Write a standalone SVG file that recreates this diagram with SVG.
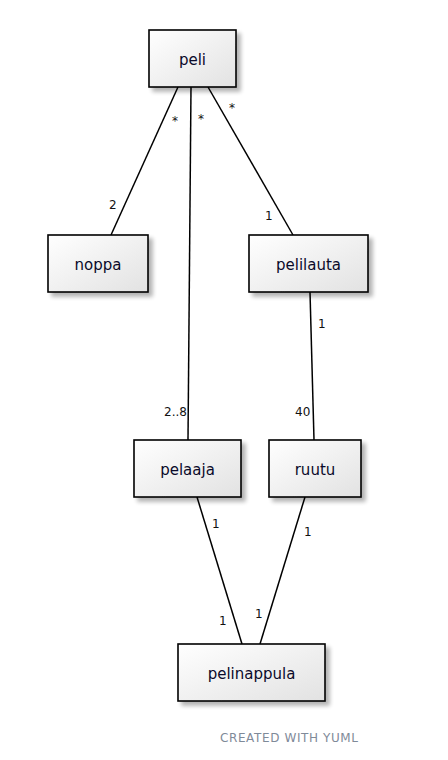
<svg xmlns="http://www.w3.org/2000/svg" width="448" height="760" viewBox="0 0 448 760">
<style>
.box{fill:url(#g);stroke:#000;stroke-width:1.6;filter:url(#sh)}
.name{font-family:"DejaVu Sans",Verdana,sans-serif;font-size:15px;fill:#0a0a2a;text-anchor:middle}
.lbl{font-family:"DejaVu Sans",Verdana,sans-serif;font-size:12px;fill:#111}
.edge{stroke:#000;stroke-width:1.5;fill:none}
.foot{font-family:"DejaVu Sans",Verdana,sans-serif;font-size:12px;fill:#7f8a99}
</style>
<defs>
<linearGradient id="g" x1="0" y1="0" x2="1" y2="1">
<stop offset="0" stop-color="#ffffff"/>
<stop offset="1" stop-color="#e2e2e2"/>
</linearGradient>
<filter id="sh" x="-20%" y="-20%" width="150%" height="160%">
<feGaussianBlur in="SourceAlpha" stdDeviation="2"/>
<feOffset dx="4" dy="4" result="b"/>
<feComponentTransfer><feFuncA type="linear" slope="0.3"/></feComponentTransfer>
<feMerge><feMergeNode/><feMergeNode in="SourceGraphic"/></feMerge>
</filter>
</defs>
<rect width="448" height="760" fill="#fff"/>
<g id="connectors">
<line class="edge" x1="178" y1="87" x2="111" y2="235"/>
<line class="edge" x1="191" y1="87" x2="188" y2="440"/>
<line class="edge" x1="208" y1="87" x2="293" y2="235"/>
<line class="edge" x1="310" y1="292" x2="314" y2="440"/>
<line class="edge" x1="197" y1="497" x2="242" y2="644"/>
<line class="edge" x1="305" y1="497" x2="260" y2="644"/>
<text class="lbl" x="172" y="125">*</text>
<text class="lbl" x="198" y="123">*</text>
<text class="lbl" x="229" y="112">*</text>
<text class="lbl" x="109" y="209">2</text>
<text class="lbl" x="265" y="220">1</text>
<text class="lbl" x="318" y="328">1</text>
<text class="lbl" x="164" y="416">2..8</text>
<text class="lbl" x="295" y="416">40</text>
<text class="lbl" x="212" y="528">1</text>
<text class="lbl" x="304" y="536">1</text>
<text class="lbl" x="219" y="625">1</text>
<text class="lbl" x="255" y="618">1</text>
</g>
<g id="peli"><rect class="box" x="149" y="30" width="87" height="57"/><text class="name" x="192.5" y="65">peli</text></g>
<g id="noppa"><rect class="box" x="48" y="235" width="100" height="57"/><text class="name" x="98" y="270">noppa</text></g>
<g id="pelilauta"><rect class="box" x="249" y="235" width="119" height="57"/><text class="name" x="308.5" y="270">pelilauta</text></g>
<g id="pelaaja"><rect class="box" x="134" y="440" width="107" height="57"/><text class="name" x="187.5" y="475">pelaaja</text></g>
<g id="ruutu"><rect class="box" x="269" y="440" width="92" height="57"/><text class="name" x="315" y="475">ruutu</text></g>
<g id="pelinappula"><rect class="box" x="178" y="644" width="147" height="57"/><text class="name" x="251.5" y="679">pelinappula</text></g>
<text class="foot" x="220" y="742" textLength="138">CREATED WITH YUML</text>
</svg>
